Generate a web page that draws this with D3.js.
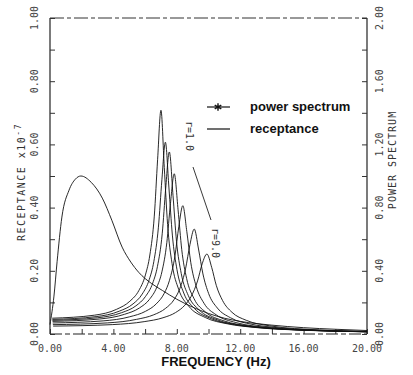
<!DOCTYPE html>
<html>
<head>
<meta charset="utf-8">
<script src="https://cdn.jsdelivr.net/npm/d3@7"></script>
<style>
  body { margin: 0; background: #fff; }
  svg { display: block; }
  .tick-label { font-family: "DejaVu Sans Mono", monospace; font-size: 10px; fill: #444; }
  .axis-title { font-family: "DejaVu Sans Mono", monospace; font-size: 10px; fill: #333; }
  .bold-text { font-family: "Liberation Sans", Arial, sans-serif; font-weight: bold; font-size: 13px; fill: #111; }
</style>
</head>
<body>
<div id="chart"></div>
<script>
// axis ticks and labels
var xTickValues = [0, 4, 8, 12, 16, 20];
var xTickLabels = ["0.00", "4.00", "8.00", "12.00", "16.00", "20.00"];
var leftTickValues = [0, 0.2, 0.4, 0.6, 0.8, 1.0];
var leftTickLabels = ["0.00", "0.20", "0.40", "0.60", "0.80", "1.00"];
var rightTickValues = [0, 0.4, 0.8, 1.2, 1.6, 2.0];
var rightTickLabels = ["0.00", "0.40", "0.80", "1.20", "1.60", "2.00"];

// power spectrum (right axis)
var psFreq = [0, 0.25, 0.45, 0.75, 1.2, 1.6, 1.95, 2.6, 3.3, 3.9, 4.55, 5.1, 5.6, 6.4, 7.1, 8.0, 9.0, 10.0, 11.0, 12.0, 14.0, 16.0, 18.0, 20.0];
var psValue = [0.06, 0.24, 0.46, 0.74, 0.91, 0.98, 1.00, 0.96, 0.86, 0.72, 0.55, 0.455, 0.39, 0.32, 0.275, 0.22, 0.17, 0.13, 0.10, 0.08, 0.056, 0.04, 0.03, 0.022];

// receptance curves, r = 1.0 ... r = 9.0 (left axis)
var rec1Freq = [0.14, 2.8, 4.2, 5.04, 5.6, 6.02, 6.3, 6.58, 6.79, 7.0, 7.21, 7.42, 7.7, 8.12, 8.75, 9.8, 11.2, 13, 16, 20];
var rec1Val = [0.05, 0.0595, 0.0781, 0.1038, 0.137, 0.187, 0.250, 0.373, 0.553, 0.708, 0.527, 0.346, 0.223, 0.141, 0.0883, 0.0521, 0.0321, 0.0204, 0.0118, 0.0070];
var rec2Freq = [0.15, 2.91, 4.37, 5.24, 5.82, 6.26, 6.55, 6.84, 7.06, 7.28, 7.50, 7.72, 8.01, 8.44, 9.10, 10.19, 11.65, 13, 16, 20];
var rec2Val = [0.0462, 0.055, 0.0722, 0.0953, 0.1265, 0.172, 0.229, 0.338, 0.488, 0.607, 0.465, 0.313, 0.204, 0.1295, 0.0814, 0.0481, 0.0296, 0.0211, 0.0121, 0.0071];
var rec3Freq = [0.15, 3.01, 4.52, 5.42, 6.02, 6.48, 6.78, 7.08, 7.30, 7.53, 7.76, 7.98, 8.28, 8.73, 9.41, 10.54, 12.05, 14, 16, 20];
var rec3Val = [0.0432, 0.0514, 0.0675, 0.0891, 0.1184, 0.161, 0.214, 0.317, 0.461, 0.576, 0.439, 0.294, 0.1915, 0.1212, 0.0762, 0.0450, 0.0277, 0.0176, 0.0123, 0.0071];
var rec4Freq = [0.16, 3.14, 4.70, 5.64, 6.27, 6.74, 7.06, 7.37, 7.60, 7.84, 8.08, 8.31, 8.62, 9.09, 9.80, 10.98, 12.54, 14, 17, 20];
var rec4Val = [0.0399, 0.0475, 0.0623, 0.0823, 0.1092, 0.1483, 0.1967, 0.289, 0.413, 0.507, 0.393, 0.268, 0.1756, 0.1116, 0.0699, 0.0414, 0.0256, 0.0182, 0.0108, 0.0072];
var rec5Freq = [0.17, 3.35, 5.03, 6.03, 6.70, 7.21, 7.54, 7.88, 8.13, 8.38, 8.63, 8.88, 9.22, 9.72, 10.48, 11.73, 14, 17, 20];
var rec5Val = [0.0349, 0.0415, 0.0545, 0.0719, 0.0952, 0.1289, 0.170, 0.246, 0.341, 0.406, 0.325, 0.227, 0.1515, 0.097, 0.0609, 0.0362, 0.0195, 0.0112, 0.0074];
var rec6Freq = [0.18, 3.64, 5.46, 6.55, 7.28, 7.83, 8.19, 8.55, 8.83, 9.10, 9.37, 9.65, 10.01, 10.56, 11.38, 12.74, 14, 17, 20];
var rec6Val = [0.0296, 0.0352, 0.0463, 0.0609, 0.0807, 0.109, 0.1435, 0.206, 0.283, 0.332, 0.269, 0.190, 0.1277, 0.0821, 0.0516, 0.0306, 0.0217, 0.0119, 0.0077];
var rec7Freq = [0.2, 3.96, 5.94, 7.13, 7.92, 8.51, 8.91, 9.31, 9.60, 9.90, 10.20, 10.49, 10.89, 11.48, 12.38, 13.86, 17, 20];
var rec7Val = [0.025, 0.0298, 0.0391, 0.0514, 0.0678, 0.0913, 0.1192, 0.168, 0.222, 0.253, 0.211, 0.154, 0.1057, 0.0687, 0.0434, 0.0259, 0.0128, 0.0081];

var width = 413, height = 375;
var plotLeft = 50, plotRight = 367, plotTop = 18, plotBottom = 334;

var svg = d3.select('#chart').append('svg')
    .attr('width', width)
    .attr('height', height);

var x = d3.scaleLinear().domain([0, 20]).range([plotLeft, plotRight]);
var yL = d3.scaleLinear().domain([0, 1]).range([plotBottom, plotTop]);
var yR = d3.scaleLinear().domain([0, 2]).range([plotBottom, plotTop]);

// frame: left/right solid, top/bottom broken like the scanned plot
svg.append('line').attr('x1', plotLeft).attr('x2', plotLeft).attr('y1', plotTop).attr('y2', plotBottom)
    .attr('stroke', '#222').attr('stroke-width', 1.2);
svg.append('line').attr('x1', plotRight).attr('x2', plotRight).attr('y1', plotTop).attr('y2', plotBottom)
    .attr('stroke', '#222').attr('stroke-width', 1.2);
svg.append('line').attr('x1', plotLeft).attr('x2', plotRight).attr('y1', plotTop).attr('y2', plotTop)
    .attr('stroke', '#333').attr('stroke-dasharray', '14,3,4,3');
svg.append('line').attr('x1', plotLeft).attr('x2', plotRight).attr('y1', plotBottom).attr('y2', plotBottom)
    .attr('stroke', '#222').attr('stroke-width', 1.2).attr('stroke-dasharray', '12,3,5,3');

// ticks (inward)
var xAxis = d3.axisBottom(x).tickValues(d3.range(0, 21, 2)).tickSize(-5).tickFormat('');
svg.append('g').attr('transform', 'translate(0,' + plotBottom + ')').call(xAxis)
    .call(g => g.select('.domain').remove())
    .selectAll('line').attr('stroke', '#333');
var yAxisL = d3.axisLeft(yL).tickValues(d3.range(0, 1.01, 0.1)).tickSize(-5).tickFormat('');
svg.append('g').attr('transform', 'translate(' + plotLeft + ',0)').call(yAxisL)
    .call(g => g.select('.domain').remove())
    .selectAll('line').attr('stroke', '#333');
var yAxisR = d3.axisRight(yR).tickValues(d3.range(0, 2.01, 0.2)).tickSize(-5).tickFormat('');
svg.append('g').attr('transform', 'translate(' + plotRight + ',0)').call(yAxisR)
    .call(g => g.select('.domain').remove())
    .selectAll('line').attr('stroke', '#333');

// tick labels
svg.selectAll('.xlab').data(xTickValues).join('text')
    .attr('class', 'tick-label')
    .attr('x', d => x(d)).attr('y', plotBottom + 18)
    .attr('text-anchor', 'middle')
    .text((d, i) => xTickLabels[i]);
svg.selectAll('.ylab').data(leftTickValues).join('text')
    .attr('class', 'tick-label')
    .attr('transform', d => 'translate(' + 38 + ',' + yL(d) + ') rotate(-90)')
    .attr('text-anchor', 'middle')
    .text((d, i) => leftTickLabels[i]);
svg.selectAll('.rlab').data(rightTickValues).join('text')
    .attr('class', 'tick-label')
    .attr('transform', d => 'translate(' + 383 + ',' + yR(d) + ') rotate(-90)')
    .attr('text-anchor', 'middle')
    .text((d, i) => rightTickLabels[i]);

// axis titles
svg.append('text').attr('class', 'axis-title')
    .attr('transform', 'translate(25,' + 182 + ') rotate(-90)')
    .attr('text-anchor', 'middle')
    .attr('letter-spacing', 1.5)
    .text('RECEPTANCE  x10')
    .append('tspan').attr('dy', -4).attr('font-size', 8).text('-7');
svg.append('text').attr('class', 'axis-title')
    .attr('transform', 'translate(396,' + 160 + ') rotate(-90)')
    .attr('text-anchor', 'middle')
    .attr('letter-spacing', 1)
    .text('POWER SPECTRUM');
svg.append('text').attr('class', 'bold-text')
    .attr('x', 216).attr('y', 366)
    .attr('text-anchor', 'middle')
    .attr('font-size', 14)
    .text('FREQUENCY  (Hz)');

// curves
var line = (xs, ys, yScale) => d3.line()
    .x(d => x(d[0]))
    .y(d => yScale(d[1]))
    .curve(d3.curveMonotoneX)(d3.zip(xs, ys));

var recSeries = [
    [rec1Freq, rec1Val], [rec2Freq, rec2Val], [rec3Freq, rec3Val], [rec4Freq, rec4Val],
    [rec5Freq, rec5Val], [rec6Freq, rec6Val], [rec7Freq, rec7Val]
];
svg.append('g').selectAll('path').data(recSeries).join('path')
    .attr('d', d => line(d[0], d[1], yL))
    .attr('fill', 'none').attr('stroke', '#111').attr('stroke-width', 0.9);

svg.append('path')
    .attr('d', line(psFreq, psValue, yR))
    .attr('fill', 'none').attr('stroke', '#111').attr('stroke-width', 0.9);

// legend
var legend = svg.append('g');
legend.append('line').attr('x1', 207).attr('x2', 230).attr('y1', 107).attr('y2', 107)
    .attr('stroke', '#111').attr('stroke-width', 1.2);
legend.append('path').attr('d', d3.symbol(d3.symbolAsterisk, 40)())
    .attr('transform', 'translate(218,107)')
    .attr('fill', 'none').attr('stroke', '#111').attr('stroke-width', 1.4);
legend.append('text').attr('class', 'bold-text').attr('x', 250).attr('y', 111).text('power spectrum');
legend.append('line').attr('x1', 207).attr('x2', 230).attr('y1', 129).attr('y2', 129)
    .attr('stroke', '#111').attr('stroke-width', 1.2);
legend.append('text').attr('class', 'bold-text').attr('x', 250).attr('y', 133).text('receptance');

// r annotations
svg.append('text').attr('class', 'axis-title')
    .attr('transform', 'translate(186,121) rotate(90)')
    .attr('font-size', 11)
    .text('r=1.0');
svg.append('line').attr('x1', 193).attr('y1', 167).attr('x2', 211).attr('y2', 220)
    .attr('stroke', '#222').attr('stroke-width', 0.9);
svg.append('text').attr('class', 'axis-title')
    .attr('transform', 'translate(212,228) rotate(90)')
    .attr('font-size', 11)
    .text('r=9.0');
</script>
</body>
</html>
